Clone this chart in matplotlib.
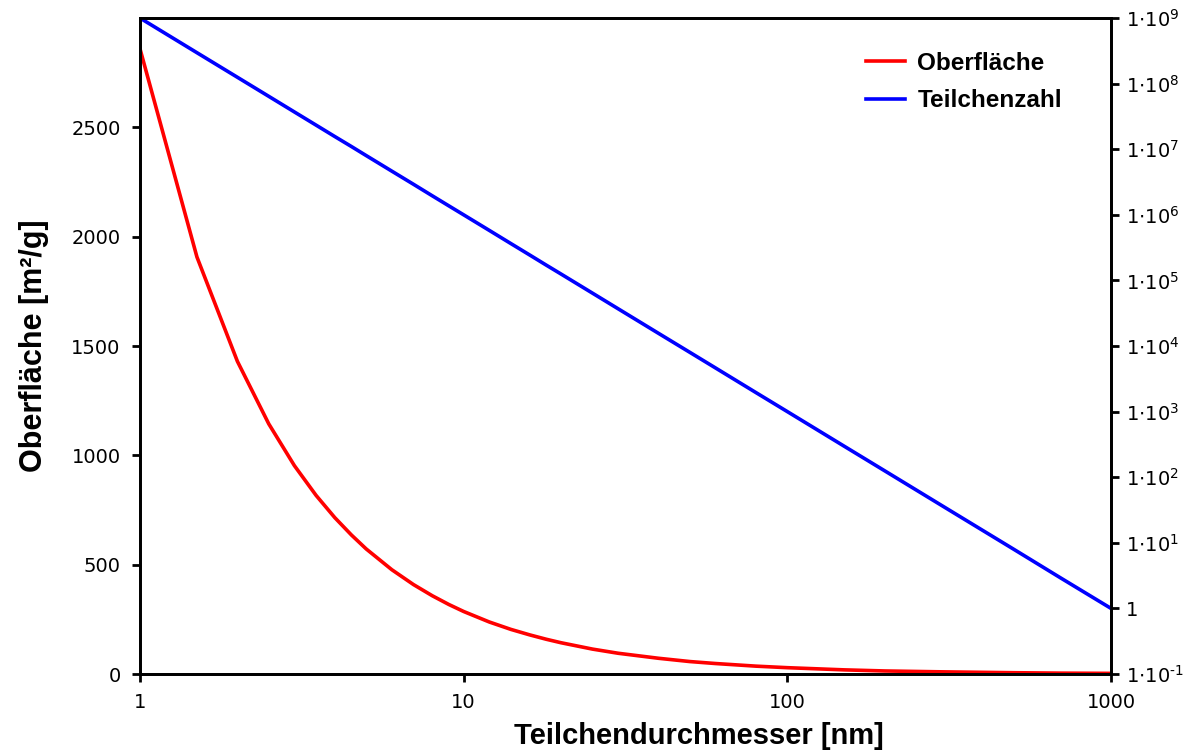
import numpy as np
import matplotlib.pyplot as plt

plt.rcParams['font.family'] = ['Liberation Sans', 'DejaVu Sans']
plt.rcParams['mathtext.fontset'] = 'custom'
plt.rcParams['mathtext.rm'] = 'DejaVu Sans'
plt.rcParams['mathtext.it'] = 'DejaVu Sans'

# particle diameter in nm
diameter = [1, 1.5, 2, 2.5, 3, 3.5, 4, 4.5, 5, 6, 7, 8, 9, 10, 12, 14, 16, 18,
            20, 25, 30, 40, 50, 60, 80, 100, 150, 200, 300, 500, 700, 1000]
# specific surface in m2/g
surface = [2860, 1907, 1430, 1144, 953, 817, 715, 636, 572, 477, 409, 358, 318,
           286, 238, 204, 179, 159, 143, 114, 95, 72, 57, 48, 36, 29, 19, 14,
           10, 6, 4, 3]
# number of particles
particles = [1e9, 2.96e8, 1.25e8, 6.4e7, 3.7e7, 2.33e7, 1.56e7, 1.1e7, 8e6,
             4.63e6, 2.92e6, 1.95e6, 1.37e6, 1e6, 5.79e5, 3.64e5, 2.44e5,
             1.71e5, 1.25e5, 6.4e4, 3.7e4, 1.56e4, 8e3, 4.63e3, 1.95e3, 1e3,
             296, 125, 37, 8, 2.9, 1]

fig = plt.figure(figsize=(11.86, 7.51), dpi=100)
ax = fig.add_axes([0.118, 0.1025, 0.8188, 0.8735])
ax2 = ax.twinx()

l1, = ax.plot(diameter, surface, color='#ff0000', lw=2.6, label='Oberfläche')
l2, = ax2.plot(diameter, particles, color='#0000ff', lw=2.6, label='Teilchenzahl')

ax.set_xscale('log')
ax.set_xlim(1, 1000)
ax.set_ylim(0, 3000)
ax.set_yticks([0, 500, 1000, 1500, 2000, 2500])
ax.set_xticks([1, 10, 100, 1000])
ax.set_xticklabels(['1', '10', '100', '1000'])
ax.xaxis.set_minor_locator(plt.NullLocator())

ax2.set_yscale('log')
ax2.set_ylim(1e-1, 1e9)
rticks = [10.0 ** k for k in range(-1, 10)]
rlabels = []
for k in range(-1, 10):
    if k == 0:
        rlabels.append('1')
    elif k < 0:
        rlabels.append(r'$1{\cdot}10^{\text{-}%d}$' % -k)
    else:
        rlabels.append(r'$1{\cdot}10^{%d}$' % k)
ax2.set_yticks(rticks)
ax2.set_yticklabels(rlabels)
ax2.yaxis.set_minor_locator(plt.NullLocator())

for a in (ax, ax2):
    for s in a.spines.values():
        s.set_linewidth(2)
    a.tick_params(axis='both', which='major', direction='out', length=6,
                  width=2, labelsize=14, pad=8)
    for lab in a.get_xticklabels() + a.get_yticklabels():
        lab.set_family('DejaVu Sans')
ax2.tick_params(axis='y', pad=5)

ax.set_xlabel('Teilchendurchmesser [nm]', fontsize=21, fontweight='bold', labelpad=4)
ax.xaxis.set_label_coords(0.576, -0.073)
ax.set_ylabel('Oberfläche [m²/g]', fontsize=22, fontweight='bold', labelpad=16)

leg = ax.legend(handles=[l1, l2], loc='upper right', bbox_to_anchor=(0.972, 0.982),
                frameon=False, handlelength=1.6, handletextpad=0.5,
                labelspacing=0.6, prop={'size': 17.5, 'weight': 'bold'})

fig.savefig('out.png', dpi=100)
